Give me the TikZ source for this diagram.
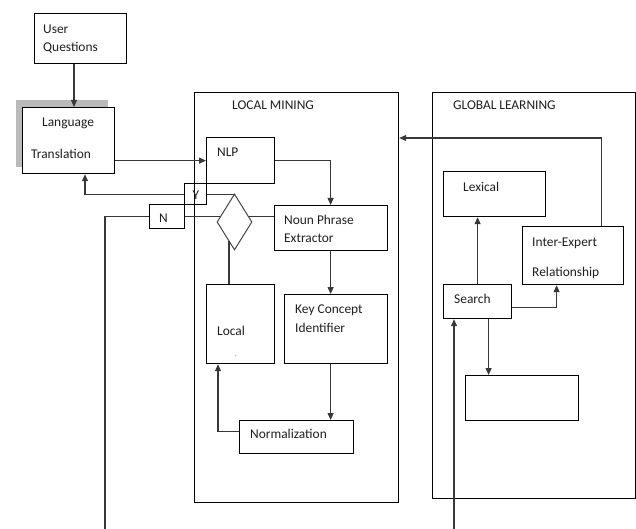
\documentclass[tikz,border=0pt]{standalone}
\usepackage{fontspec}
\setmainfont{Carlito}
\usetikzlibrary{arrows.meta,shapes.geometric}
\begin{document}
\begin{tikzpicture}[x=1pt,y=-1pt,
 box/.style={draw=black,line width=1.2pt,inner sep=0,anchor=north west},
 txt/.style={font=\fontsize{13.4}{16}\selectfont,inner sep=0,anchor=west,text=black!88},
 conn/.style={draw=black!78,line width=1.1pt},
 arr/.style={conn,-{Triangle[length=7pt,width=6pt]}}]
\useasboundingbox (0,0) rectangle (636,529);
% containers
\node[box,minimum width=204pt,minimum height=410pt] (lm) at (194,92) {};
\node[box,minimum width=203pt,minimum height=406pt] (gl) at (432,92) {};
\node[txt] (lmT) at (232,105) {LOCAL MINING};
\node[txt] (glT) at (453,105) {GLOBAL LEARNING};
% left column
\node[box,minimum width=92pt,minimum height=50pt] (uq) at (34,13) {};
\node[txt] (uqT1) at (43,29) {User};
\node[txt] (uqT2) at (43,48) {Questions};
\node[box,draw=none,fill=black!27,minimum width=92pt,minimum height=67pt] (sh) at (15,99) {};
\node[box,fill=white,minimum width=92pt,minimum height=66pt] (lang) at (22,107) {};
\node[txt] (langT1) at (42,123) {Language};
\node[txt] (langT2) at (31,154) {Translation};
% local mining
\node[box,minimum width=68pt,minimum height=46pt] (nlp) at (206,137) {};
\node[txt] (nlpT) at (217,152) {NLP};
\node[box,minimum width=22pt,minimum height=21pt] (yb) at (184,183) {};
\node[txt,anchor=center] (ybT) at (196,195) {Y};
\node[box,minimum width=35pt,minimum height=24pt] (nb) at (149,204) {};
\node[txt,anchor=center] (nbT) at (163.5,218) {N};
\node[draw=black!72,line width=1pt,diamond,inner sep=0,minimum width=35pt,minimum height=56pt] (dia) at (234.5,222) {};
\node[box,minimum width=113pt,minimum height=45pt] (noun) at (274,205) {};
\node[txt] (nounT1) at (284,220) {Noun Phrase};
\node[txt] (nounT2) at (284,238) {Extractor};
\node[box,minimum width=68pt,minimum height=79pt] (loc) at (206,284) {};
\node[txt] (locT) at (217,331) {Local};
\node[txt,font=\fontsize{6}{7}\selectfont] (locD) at (235,356) {.};
\node[box,minimum width=103pt,minimum height=69pt] (key) at (284,294) {};
\node[txt] (keyT1) at (295,310) {Key Concept};
\node[txt] (keyT2) at (295,328) {Identifier};
\node[box,minimum width=114pt,minimum height=33pt] (norm) at (239,420) {};
\node[txt] (normT) at (250,434) {Normalization};
% global learning
\node[box,minimum width=102pt,minimum height=45pt] (lex) at (443,171) {};
\node[txt] (lexT) at (463,187) {Lexical};
\node[box,minimum width=101pt,minimum height=58pt] (ie) at (522,226) {};
\node[txt] (ieT1) at (532,243) {Inter-Expert};
\begin{scope}
\clip (522,226) rectangle (623,283.5);
\node[txt] (ieT2) at (532,273) {Relationship};
\end{scope}
\node[box,minimum width=68pt,minimum height=34pt] (search) at (443,284) {};
\node[txt] (searchT) at (454,299) {Search};
\node[box,minimum width=113pt,minimum height=45pt] (emp) at (465,375) {};
% free ends
\coordinate (nend) at (105,529);
\coordinate (send) at (454,529);
\coordinate (dj) at (229,241);
% connectors
\draw[arr] (uq.south -| 74,0) -- (lang.north -| 74,0);
\draw[arr] (lang.east |- nlp.west) -- (nlp.west);
\draw[arr] (yb.west) -| ([xshift=63pt]lang.south west);
\draw[conn] (yb.east) -- (yb.east -| dia.north);
\draw[conn] (nb.west) -| (nend);
\draw[conn] (nb.east) -- ([xshift=3.5pt]dia.west |- nb.east);
\draw[conn] (noun.west |- nb.east) -- ([xshift=-3.5pt]dia.east |- nb.east);
\draw[conn] (dj) -- (dj |- loc.north);
\draw[arr] (nlp.east) -| ([xshift=-0.5pt]noun.north);
\draw[arr] ([xshift=-0.5pt]noun.south) -- ([xshift=-0.5pt]noun.south |- key.north);
\draw[arr] ([xshift=-0.5pt]noun.south |- key.south) -- ([xshift=-0.5pt]noun.south |- norm.north);
\draw[arr] ([yshift=5.5pt]norm.west) -| ([xshift=12pt]loc.south west);
\draw[arr] ([xshift=28.5pt]ie.north) |- (lm.east |- 0,138);
\draw[arr] (search.north) -- (search.north |- lex.south);
\draw[arr] ([yshift=-6pt]search.east) -| ([xshift=-16.5pt]ie.south);
\draw[arr] ([xshift=11pt]search.south) -- ([xshift=11pt]search.south |- emp.north);
\draw[arr] (send) -- (send |- search.south);
\end{tikzpicture}
\end{document}
